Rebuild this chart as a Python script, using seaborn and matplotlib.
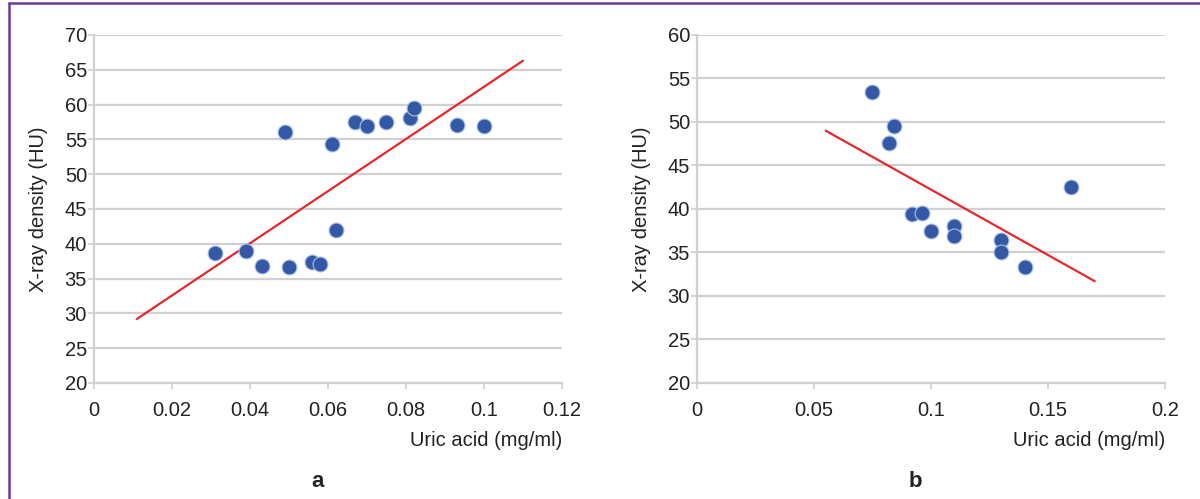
import matplotlib
matplotlib.use('Agg')
import matplotlib.pyplot as plt
from matplotlib.lines import Line2D
import pandas as pd
import seaborn as sns

# panel a
uric_a = [0.031, 0.039, 0.043, 0.049, 0.050, 0.056, 0.058, 0.061, 0.062,
          0.067, 0.070, 0.075, 0.081, 0.082, 0.093, 0.100]
density_a = [38.7, 39.0, 36.8, 56.1, 36.7, 37.4, 37.1, 54.3, 42.0,
             57.5, 56.9, 57.5, 58.1, 59.5, 57.1, 56.9]
trend_a_x = [0.011, 0.110]
trend_a_y = [29.2, 66.3]

# panel b
uric_b = [0.075, 0.084, 0.082, 0.160, 0.092, 0.096, 0.100, 0.110, 0.110,
          0.130, 0.130, 0.140]
density_b = [53.4, 49.5, 47.6, 42.5, 39.4, 39.5, 37.5, 38.0, 36.9,
             36.4, 35.1, 33.3]
trend_b_x = [0.055, 0.170]
trend_b_y = [49.0, 31.7]

xticks_a = [0, 0.02, 0.04, 0.06, 0.08, 0.1, 0.12]
yticks_a = [20, 25, 30, 35, 40, 45, 50, 55, 60, 65, 70]
xticks_b = [0, 0.05, 0.1, 0.15, 0.2]
yticks_b = [20, 25, 30, 35, 40, 45, 50, 55, 60]

sns.set_style('white')
plt.rcParams['font.family'] = ['Liberation Sans', 'DejaVu Sans']
TXT = '#222222'
GRID = '#d0d0d0'
DOT = '#3457a6'
RED = '#e8262b'

fig = plt.figure(figsize=(12, 4.99), dpi=100)
ax_a = fig.add_axes([0.0783, 0.2325, 0.39, 0.6974])
ax_b = fig.add_axes([0.5808, 0.2325, 0.39, 0.6974])


def style_panel(ax, xticks, yticks):
    ax.set_xlim(xticks[0], xticks[-1])
    ax.set_ylim(yticks[0], yticks[-1])
    ax.set_xticks(xticks)
    ax.set_yticks(yticks)
    ax.set_xticklabels([f'{v:g}' for v in xticks])
    ax.set_yticklabels([f'{v:g}' for v in yticks])
    ax.grid(axis='y', color=GRID, lw=1.6)
    ax.grid(axis='x', visible=False)
    ax.set_axisbelow(True)
    for s in ['top', 'right']:
        ax.spines[s].set_visible(False)
    for s in ['left', 'bottom']:
        ax.spines[s].set_color(GRID)
        ax.spines[s].set_linewidth(1.6)
    ax.tick_params(axis='y', length=4, width=1.2, color=GRID, pad=1,
                   labelsize=14.5, labelcolor=TXT, left=True)
    ax.tick_params(axis='x', length=4, width=1.2, color=GRID, pad=9,
                   labelsize=14.5, labelcolor=TXT, bottom=True)
    ax.set_xlabel('Uric acid (mg/ml)', loc='right', fontsize=14.5,
                  color=TXT, labelpad=8)
    ax.set_ylabel('X-ray density (HU)', fontsize=14.5, color=TXT,
                  labelpad=12)


df_a = pd.DataFrame({'x': uric_a, 'y': density_a})
df_b = pd.DataFrame({'x': uric_b, 'y': density_b})
tr_a = pd.DataFrame({'x': trend_a_x, 'y': trend_a_y})
tr_b = pd.DataFrame({'x': trend_b_x, 'y': trend_b_y})

for ax, df, tr, xt, yt in [(ax_a, df_a, tr_a, xticks_a, yticks_a),
                           (ax_b, df_b, tr_b, xticks_b, yticks_b)]:
    sns.lineplot(data=tr, x='x', y='y', ax=ax, color=RED, lw=1.6, zorder=3)
    sns.scatterplot(data=df, x='x', y='y', ax=ax, s=115, color=DOT,
                    edgecolor='#a9c2ea', linewidth=0.8, zorder=4)
    style_panel(ax, xt, yt)

fig.text(0.265, 0.035, 'a', fontsize=16, fontweight='bold', color=TXT,
         ha='center', va='center')
fig.text(0.7625, 0.035, 'b', fontsize=16, fontweight='bold', color=TXT,
         ha='center', va='center')

# purple frame (left and top edges)
frame = '#6a3b9c'
fig.add_artist(Line2D([0.0072, 0.0072], [0, 0.994], transform=fig.transFigure,
                      color=frame, lw=1.8))
fig.add_artist(Line2D([0.0072, 1.0], [0.994, 0.994], transform=fig.transFigure,
                      color=frame, lw=1.8))

fig.savefig('out.png', dpi=100)
